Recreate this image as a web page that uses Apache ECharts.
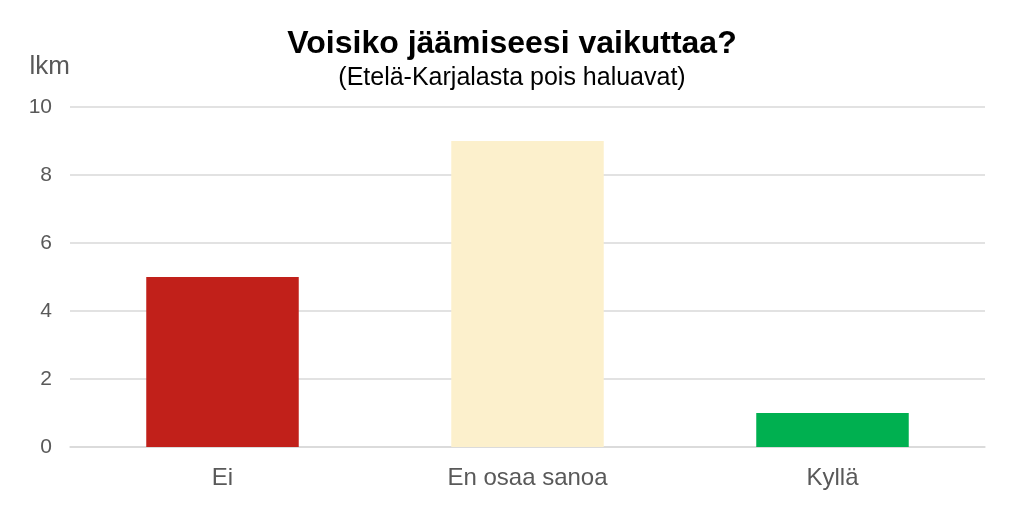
<!DOCTYPE html>
<html>
<head>
<meta charset="utf-8">
<script src="https://cdn.jsdelivr.net/npm/echarts@6/dist/echarts.min.js"></script>
<style>
  html, body { margin: 0; padding: 0; background: #fff; }
  #chart { width: 1024px; height: 525px; }
</style>
</head>
<body>
<div id="chart"></div>
<script>
var categories = ['Ei', 'En osaa sanoa', 'Kyllä'];
var counts = [5, 9, 1];
var barColors = ['#C1201A', '#FCF0CC', '#00B050'];

var myChart = echarts.init(document.getElementById('chart'));
var option = {
    animation: false,
    title: {
        text: 'Voisiko jäämiseesi vaikuttaa?',
        subtext: '(Etelä-Karjalasta pois haluavat)',
        left: 'center',
        top: 23,
        itemGap: 6,
        textStyle: {
            fontFamily: 'Liberation Sans',
            fontSize: 32,
            fontWeight: 'bold',
            color: '#000'
        },
        subtextStyle: {
            fontFamily: 'Liberation Sans',
            fontSize: 25,
            color: '#000'
        }
    },
    grid: {
        left: 70,
        right: 39,
        top: 107,
        bottom: 78,
        containLabel: false
    },
    xAxis: {
        type: 'category',
        data: categories,
        axisTick: { show: false },
        axisLine: { lineStyle: { color: '#D9D9D9', width: 1.5 } },
        axisLabel: {
            margin: 19,
            fontFamily: 'Liberation Sans',
            fontSize: 24,
            color: '#595959'
        }
    },
    yAxis: {
        type: 'value',
        min: 0,
        max: 10,
        interval: 2,
        name: 'lkm',
        nameLocation: 'end',
        nameGap: 27,
        nameTextStyle: {
            fontFamily: 'Liberation Sans',
            fontSize: 26,
            color: '#595959',
            align: 'right'
        },
        axisLine: { show: false },
        axisTick: { show: false },
        splitLine: { lineStyle: { color: '#D9D9D9', width: 1.5 } },
        axisLabel: {
            margin: 18,
            fontFamily: 'Liberation Sans',
            fontSize: 21,
            color: '#595959'
        }
    },
    series: [{
        type: 'bar',
        barWidth: '50%',
        data: counts.map(function (v, i) {
            return { value: v, itemStyle: { color: barColors[i] } };
        })
    }]
};
myChart.setOption(option);
window.addEventListener('resize', function () {
    myChart.resize();
});
</script>
</body>
</html>
